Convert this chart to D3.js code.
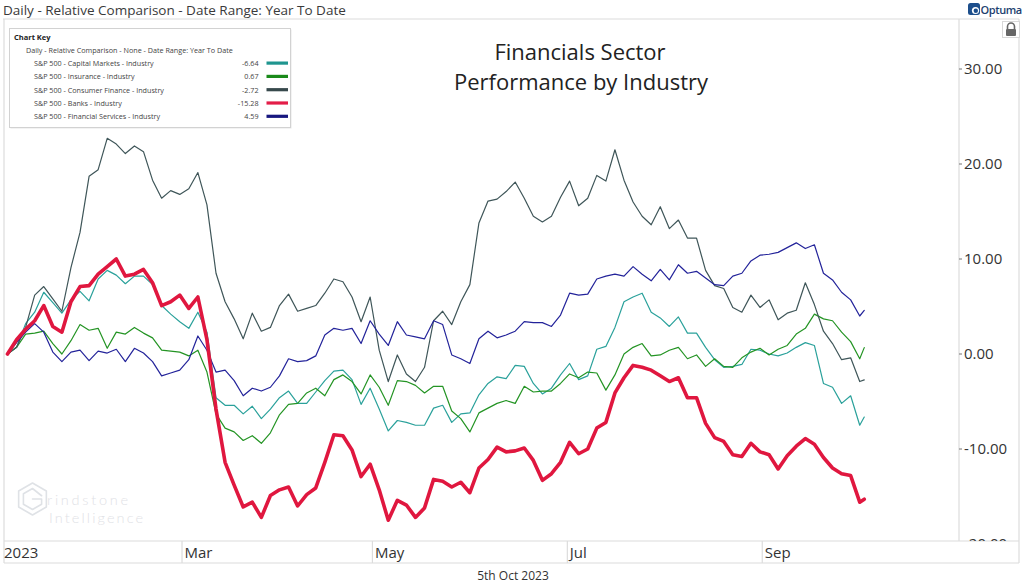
<!DOCTYPE html>
<html><head><meta charset="utf-8">
<script src="https://cdn.jsdelivr.net/npm/d3@7"></script>
<style>
html,body{margin:0;padding:0;background:#fff;}
svg{display:block;font-family:"Open Sans","Noto Sans",sans-serif;}
</style></head><body>
<svg id="chart" width="1024" height="587"></svg>
<script>
// ---------- DATA ----------
const seriesNames = [
  "S&P 500 - Capital Markets - Industry",
  "S&P 500 - Insurance - Industry",
  "S&P 500 - Consumer Finance - Industry",
  "S&P 500 - Banks - Industry",
  "S&P 500 - Financial Services - Industry"
];
const seriesColors = ["#2aa19b", "#249424", "#3f5659", "#e0173f", "#23239a"];
const legendColors = ["#1f958f", "#1a8a1a", "#37494c", "#e31d48", "#17177f"];
const lastValues = [-6.64, 0.67, -2.72, -15.28, 4.59];

// trading-day index of each sample (0 = 3 Jan 2023, 189 = 4 Oct 2023)
const sampleDays = d3.range(0, 190, 2).concat([189]);

const capitalMarkets = [
  0, 0.7, 3.2, 4.4, 6.5, 5.4, 4.3, 5.7, 6.6, 5.6,
  7.9, 8.8, 8.3, 7.4, 8.2, 8.2, 7.3, 5.1, 4.2, 3.4,
  2.7, 4.4, 2.3, -4.6, -5.4, -5.4, -6.3, -5.5, -6.8, -5.8,
  -4.6, -3.9, -5.2, -5.2, -4.0, -2.8, -1.8, -1.7, -2.7, -5.3,
  -3.6, -5.8, -8.1, -7.0, -7.2, -7.5, -7.5, -5.7, -5.4, -7.2,
  -6.3, -6.2, -4.3, -3.1, -2.4, -2.6, -1.2, -1.3, -3.1, -4.2,
  -3.6, -2.2, -1.0, -2.7, -2.3, 0.5, 0.8, 2.8, 5.5, 6.0,
  6.4, 4.4, 3.8, 2.9, 3.9, 2.2, 2.2, 0.7, -0.6, -1.4,
  -1.3, -1.1, 0.5, 0.4, 0.0, -0.2, 0.1, 0.7, 1.2, 0.9,
  -3.1, -3.5, -5.2, -4.4, -7.5, -6.64
];
const insurance = [
  0, 0.7, 2.1, 2.2, 2.4, 1.1, 0.0, 1.4, 3.1, 2.5,
  2.7, 0.6, 2.3, 2.1, 2.8, 2.2, 1.7, 0.4, 0.3, 0.2,
  -0.2, 0.4, -1.9, -6.3, -7.8, -8.2, -9.1, -8.6, -9.4, -8.3,
  -6.4, -5.3, -5.2, -4.1, -3.6, -4.4, -2.7, -2.2, -2.9, -4.2,
  -2.2, -3.5, -5.4, -2.8, -2.9, -3.3, -4.1, -3.4, -3.4, -6.0,
  -6.8, -8.2, -6.2, -5.7, -5.2, -4.9, -5.2, -3.4, -4.0, -3.9,
  -3.9, -3.1, -2.1, -2.5, -1.9, -2.0, -3.8, -2.2, 0.0, 0.7,
  1.1, -0.2, -0.1, 0.4, 0.7, -0.5, -0.1, -1.3, -0.5, -1.3,
  -1.4, -0.4, 0.2, 0.6, -0.1, 0.5, 0.9, 2.1, 2.7, 4.2,
  3.7, 3.5, 2.3, 1.3, -0.5, 0.67
];
const consumerFinance = [
  0, 0.7, 2.8, 6.2, 7.1, 5.8, 4.5, 9.1, 12.8, 18.7,
  19.4, 22.7, 22.1, 21.1, 21.9, 21.3, 18.3, 16.4, 17.2, 16.8,
  17.4, 19.1, 15.7, 8.5, 5.5, 3.7, 1.6, 4.3, 2.4, 2.8,
  5.1, 6.3, 4.5, 4.8, 5.1, 6.4, 7.9, 7.6, 6.0, 3.4,
  6.0, 0.4, -2.9, -0.1, -2.1, -2.9, -1.4, 3.5, 4.5, 3.1,
  5.5, 7.3, 13.8, 16.1, 16.3, 17.1, 18.1, 16.4, 14.5, 13.9,
  14.5, 16.5, 18.2, 15.6, 16.4, 18.8, 18.2, 21.5, 18.3, 16.0,
  14.5, 13.6, 15.5, 13.2, 14.1, 12.2, 12.2, 8.8, 7.2, 6.9,
  4.9, 4.4, 6.2, 4.9, 5.7, 3.6, 4.3, 4.6, 7.5, 5.2,
  2.4, 1.1, -0.6, -0.4, -2.9, -2.72
];
const banks = [
  0, 1.5, 2.6, 3.5, 5.1, 2.9, 2.3, 5.5, 7.1, 7.2,
  8.4, 9.2, 10.0, 8.2, 8.4, 8.9, 7.5, 5.1, 5.5, 6.2,
  4.8, 6.0, 1.5, -5.8, -11.4, -13.8, -16.1, -15.6, -17.2, -14.9,
  -14.3, -14.0, -16.0, -14.8, -14.1, -11.4, -8.5, -8.6, -10.1, -12.9,
  -11.6, -14.3, -17.5, -15.4, -15.9, -17.2, -16.2, -13.2, -13.4, -14.0,
  -13.5, -14.6, -12.0, -11.1, -9.8, -10.3, -10.2, -9.9, -11.2, -13.3,
  -12.6, -11.4, -9.3, -10.5, -10.0, -7.8, -7.2, -4.1, -2.5, -1.2,
  -1.4, -1.7, -2.3, -2.9, -2.5, -4.6, -4.6, -7.3, -8.8, -9.2,
  -10.6, -10.8, -9.4, -10.3, -10.6, -12.1, -10.7, -9.7, -8.9, -9.5,
  -10.9, -12.0, -12.6, -12.8, -15.6, -15.28
];
const financialServices = [
  0, 1.2, 2.3, 3.2, 2.3, 0.2, -0.8, 0.2, 0.4, -0.7,
  0.3, 0.1, 0.5, -0.8, 0.6, 0.1, -0.8, -2.3, -2.0, -1.7,
  -0.6, 1.9, 0.4, -1.9, -1.7, -2.8, -4.4, -3.6, -3.9, -3.5,
  -2.3, -0.5, -0.8, -0.7, -0.2, 2.0, 2.7, 2.5, 2.7, 1.1,
  3.5, 2.1, 0.9, 3.4, 2.0, 1.8, 1.6, 3.5, 3.1, -0.1,
  -0.5, -1.0, 1.6, 2.4, 1.7, 2.0, 2.4, 3.4, 3.3, 3.3,
  2.9, 4.1, 6.4, 6.2, 6.3, 7.9, 8.2, 8.4, 8.2, 9.2,
  8.4, 7.7, 8.9, 7.8, 9.4, 8.5, 8.7, 8.0, 7.3, 7.2,
  8.2, 8.5, 9.8, 10.4, 10.5, 10.7, 11.2, 11.7, 11.1, 11.5,
  8.5, 7.8, 6.5, 5.7, 4.0, 4.59
];
const seriesValues = [capitalMarkets, insurance, consumerFinance, banks, financialServices];

const monthLabels = ["2023", "Mar", "May", "Jul", "Sep"];
const monthStartDays = [-0.77, 38.5, 80.5, 123.5, 166.5]; // month boundaries in trading days
const yTicks = [30, 20, 10, 0, -10, -20];

// ---------- LAYOUT ----------
const svg = d3.select("#chart");
const W = 1024, H = 587;
const plot = {left: 4, right: 959, top: 19, bottom: 541};
const axisRight = 1019, axisBottom = 563;

const x = d3.scaleLinear().domain([-0.77, 209.9]).range([plot.left, plot.right]);
const y = d3.scaleLinear().domain([-20, 30]).range([544, 69]);

svg.append("rect").attr("width", W).attr("height", H).attr("fill", "#fff");

// header
svg.append("text").attr("x", 3).attr("y", 15).attr("font-size", 13.5).attr("fill", "#3a3a3a")
  .text("Daily - Relative Comparison - Date Range: Year To Date");

// Optuma logo
const logo = svg.append("g");
logo.append("rect").attr("x", 968).attr("y", 3).attr("width", 12).attr("height", 12).attr("rx", 2.5).attr("fill", "#1d4f8c");
logo.append("circle").attr("cx", 975.5).attr("cy", 10.5).attr("r", 3.6).attr("fill", "#fff");
logo.append("circle").attr("cx", 975.8).attr("cy", 10.8).attr("r", 2.2).attr("fill", "#1d4f8c");
logo.append("text").attr("x", 980.5).attr("y", 14).attr("font-size", 11).attr("font-weight", 600)
  .attr("fill", "#1d3f70").attr("letter-spacing", -0.4).text("Optuma");

// frame lines
const frame = svg.append("g").attr("stroke", "#dcdcdc").attr("stroke-width", 1.2).attr("fill", "none");
frame.append("line").attr("x1", 3).attr("x2", axisRight).attr("y1", plot.top).attr("y2", plot.top);
frame.append("line").attr("x1", plot.left).attr("x2", plot.left).attr("y1", plot.top).attr("y2", axisBottom);
frame.append("line").attr("x1", plot.right).attr("x2", plot.right).attr("y1", plot.top).attr("y2", plot.bottom);
frame.append("line").attr("x1", axisRight).attr("x2", axisRight).attr("y1", plot.top).attr("y2", axisBottom);
frame.append("line").attr("x1", plot.left).attr("x2", axisRight).attr("y1", plot.bottom).attr("y2", plot.bottom);
frame.append("line").attr("x1", plot.left).attr("x2", axisRight).attr("y1", axisBottom).attr("y2", axisBottom);

// watermark (hexagon "G" mark + wordmark)
const wmColor = "#dfe2e6";
const wm = svg.append("g").attr("fill", "none").attr("stroke", wmColor).attr("stroke-width", 1.6)
  .attr("stroke-linejoin", "round").attr("stroke-linecap", "round");
const hex = (cx, cy, r) => d3.range(6).map(i => {
  const a = Math.PI / 3 * i - Math.PI / 2;
  return [cx + r * Math.cos(a), cy + r * Math.sin(a)];
});
wm.append("polygon").attr("points", hex(32.5, 499, 16).join(" "));
const g = hex(32.5, 499, 10.5);
wm.append("path").attr("d",
  `M${g[1][0]},${g[1][1] + 2} L${g[0][0]},${g[0][1]} L${g[5][0]},${g[5][1]} L${g[4][0]},${g[4][1]} ` +
  `L${g[3][0]},${g[3][1]} L${g[2][0]},${g[2][1]} L${g[2][0]},${499} L${32.5},${499}`);
svg.append("text").attr("x", 47).attr("y", 505).attr("font-size", 14.5).attr("font-weight", 300)
  .attr("font-family", "Lato, 'Open Sans', sans-serif").attr("fill", wmColor)
  .attr("textLength", 81).attr("lengthAdjust", "spacing").text("rindstone");
svg.append("text").attr("x", 49).attr("y", 523).attr("font-size", 14.5).attr("font-weight", 300)
  .attr("font-family", "Lato, 'Open Sans', sans-serif").attr("fill", wmColor)
  .attr("textLength", 94).attr("lengthAdjust", "spacing").text("Intelligence");

// title
svg.append("text").attr("x", 580).attr("y", 60).attr("text-anchor", "middle").attr("font-size", 22)
  .attr("fill", "#222").text("Financials Sector");
svg.append("text").attr("x", 581).attr("y", 90).attr("text-anchor", "middle").attr("font-size", 22)
  .attr("fill", "#222").text("Performance by Industry");

// clip for plot lines
svg.append("clipPath").attr("id", "plotClip").append("rect")
  .attr("x", plot.left + 1).attr("y", plot.top + 1).attr("width", plot.right - plot.left - 2).attr("height", plot.bottom - plot.top - 2);
svg.append("clipPath").attr("id", "axisClip").append("rect")
  .attr("x", plot.right).attr("y", plot.top + 1).attr("width", axisRight - plot.right).attr("height", plot.bottom - plot.top - 1);

// lines
const line = d3.line().x((d, i) => x(sampleDays[i])).y(d => y(d)).curve(d3.curveLinear);
const drawOrder = [0, 1, 2, 4, 3];
const lines = svg.append("g").attr("clip-path", "url(#plotClip)");
drawOrder.forEach(si => {
  lines.append("path").datum(seriesValues[si]).attr("d", line)
    .attr("fill", "none").attr("stroke", seriesColors[si])
    .attr("stroke-width", si === 3 ? 3.6 : 1.2)
    .attr("stroke-linejoin", "round").attr("stroke-linecap", "round");
});

// y axis (right)
const yAxisG = svg.append("g").attr("clip-path", "url(#axisClip)");
yTicks.forEach(t => {
  yAxisG.append("line").attr("x1", plot.right).attr("x2", plot.right + 3).attr("y1", y(t)).attr("y2", y(t))
    .attr("stroke", "#777").attr("stroke-width", 1);
  yAxisG.append("text").attr("x", 964).attr("y", y(t)).attr("dy", "0.36em").attr("font-size", 15)
    .attr("fill", "#333").text(t.toFixed(2));
});

// lock icon
const lock = svg.append("g");
lock.append("rect").attr("x", 1002.5).attr("y", 21.5).attr("width", 17).attr("height", 16)
  .attr("fill", "#fff").attr("stroke", "#d8d8d8");
lock.append("path").attr("d", "M1007.5,29 v-2.5 a3.5,3.5 0 0 1 7,0 v2.5").attr("fill", "none")
  .attr("stroke", "#666").attr("stroke-width", 1.6);
lock.append("rect").attr("x", 1006).attr("y", 29).attr("width", 10).attr("height", 7).attr("rx", 1).attr("fill", "#666");

// x axis (months)
const xAxisG = svg.append("g");
monthStartDays.forEach((d, i) => {
  const px = i === 0 ? plot.left : x(d);
  if (i > 0) xAxisG.append("line").attr("x1", px).attr("x2", px).attr("y1", plot.bottom).attr("y2", axisBottom)
    .attr("stroke", "#dcdcdc").attr("stroke-width", 1.2);
  xAxisG.append("text").attr("x", px + (i === 0 ? 0 : 2.5)).attr("y", 558).attr("font-size", 15)
    .attr("fill", "#333").text(monthLabels[i]);
});

// footer date
svg.append("text").attr("x", 513).attr("y", 580).attr("text-anchor", "middle").attr("font-size", 12)
  .attr("fill", "#333").text("5th Oct 2023");

// chart key
const key = svg.append("g");
key.append("rect").attr("x", 10.5).attr("y", 29.5).attr("width", 281).attr("height", 99)
  .attr("fill", "#e8e8e8");
key.append("rect").attr("x", 9.5).attr("y", 28.5).attr("width", 281).attr("height", 99)
  .attr("fill", "#fff").attr("stroke", "#d2d2d2");
key.append("text").attr("x", 14).attr("y", 40).attr("font-size", 7.5).attr("font-weight", 700)
  .attr("fill", "#222").text("Chart Key");
key.append("text").attr("x", 26).attr("y", 53).attr("font-size", 7.2).attr("fill", "#444")
  .text("Daily - Relative Comparison - None - Date Range: Year To Date");
seriesNames.forEach((n, i) => {
  const ry = 66 + i * 13.3;
  key.append("text").attr("x", 34).attr("y", ry).attr("font-size", 7.2).attr("fill", "#444").text(n);
  key.append("text").attr("x", 258.5).attr("y", ry).attr("text-anchor", "end").attr("font-size", 7.2)
    .attr("fill", "#444").text(lastValues[i].toFixed(2));
  key.append("rect").attr("x", 266.5).attr("y", ry - 4.5).attr("width", 21.5).attr("height", 3.2)
    .attr("fill", legendColors[i]);
});
</script>
</body></html>
